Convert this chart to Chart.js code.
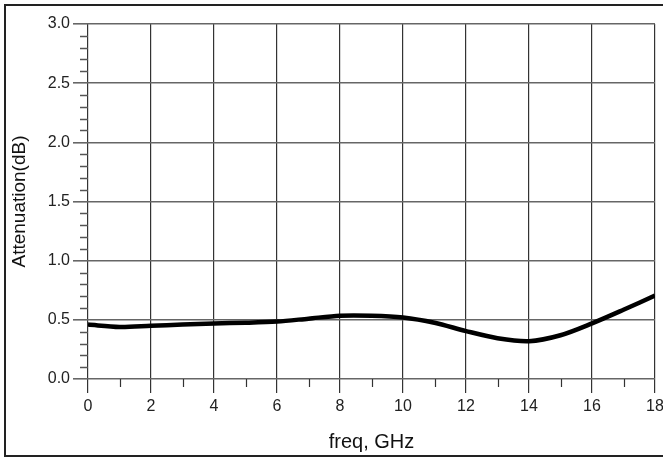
<!DOCTYPE html>
<html>
<head>
<meta charset="utf-8">
<script src="https://cdn.jsdelivr.net/npm/chart.js@4.4.1/dist/chart.umd.min.js"></script>
<style>
  html, body { margin: 0; padding: 0; background: #fff; }
  #wrap { width: 663px; height: 459px; }
</style>
</head>
<body>
<div id="wrap"><canvas id="attChart" width="663" height="459"></canvas></div>
<script>
// frequency points (GHz) and attenuation (dB)
const freq = [0, 1, 2, 3, 4, 5, 6, 7, 8, 9, 10, 11, 12, 13, 14, 15, 16, 17, 18];
const attenuation = [0.46, 0.44, 0.45, 0.46, 0.47, 0.475, 0.485, 0.51, 0.535, 0.535,
  0.52, 0.475, 0.405, 0.345, 0.32, 0.37, 0.47, 0.585, 0.705];
const xTicks = [0, 2, 4, 6, 8, 10, 12, 14, 16, 18];
const yTicks = [0.0, 0.5, 1.0, 1.5, 2.0, 2.5, 3.0];

const FONT = '"Liberation Sans", Arial, sans-serif';

// outer frame + minor ticks
const framePlugin = {
  id: 'frame',
  beforeDraw(chart) {
    const c = chart.ctx;
    c.save();
    c.fillStyle = '#fff';
    c.fillRect(0, 0, chart.width, chart.height);
    c.strokeStyle = '#222';
    c.lineWidth = 2;
    c.strokeRect(5, 5, 662, 451);
    c.restore();
  },
  afterDraw(chart) {
    const c = chart.ctx;
    const xs = chart.scales.x, ys = chart.scales.y;
    c.save();
    c.strokeStyle = '#555';
    c.lineWidth = 1.5;
    for (let i = 1; i < 30; i++) {
      if (i % 5 === 0) continue;
      const y = Math.round(ys.getPixelForValue(i / 10)) + 0.5;
      c.beginPath();
      c.moveTo(xs.left - 8, y);
      c.lineTo(xs.left, y);
      c.stroke();
    }
    c.strokeStyle = '#333';
    c.lineWidth = 1.2;
    for (let v = 1; v < 18; v += 2) {
      const x = Math.round(xs.getPixelForValue(v)) + 0.5;
      c.beginPath();
      c.moveTo(x, ys.bottom);
      c.lineTo(x, ys.bottom + 8);
      c.stroke();
    }
    c.restore();
  }
};

new Chart(document.getElementById('attChart'), {
  type: 'line',
  data: {
    datasets: [{
      data: freq.map((f, i) => ({ x: f, y: attenuation[i] })),
      borderColor: '#000',
      borderWidth: 4.5,
      pointRadius: 0,
      tension: 0.3,
      fill: false
    }]
  },
  options: {
    responsive: false,
    animation: false,
    layout: { padding: { left: 0, right: 8, top: 24, bottom: 0 } },
    plugins: { legend: { display: false }, tooltip: { enabled: false } },
    scales: {
      x: {
        type: 'linear',
        min: 0, max: 18,
        afterBuildTicks: s => { s.ticks = xTicks.map(v => ({ value: v })); },
        afterFit: s => { s.height = 80; s.paddingLeft = 0; s.paddingRight = 0; },
        border: { display: false },
        grid: { color: '#333', lineWidth: 1.2, tickLength: 14, tickColor: '#333' },
        ticks: { color: '#222', font: { family: FONT, size: 16 }, padding: 4, maxRotation: 0 },
        title: {
          display: true, text: 'freq, GHz', color: '#111',
          font: { family: FONT, size: 20 }, padding: { top: 0, bottom: 5 }
        }
      },
      y: {
        min: 0, max: 3,
        afterBuildTicks: s => { s.ticks = yTicks.map(v => ({ value: v })); },
        afterFit: s => { s.width = 88; },
        border: { display: false },
        grid: { color: '#666', lineWidth: 1.6, tickLength: 15, tickColor: '#666' },
        ticks: {
          color: '#222', font: { family: FONT, size: 16 }, padding: 3,
          callback: v => Number(v).toFixed(1)
        },
        title: {
          display: true, text: 'Attenuation(dB)', color: '#111',
          font: { family: FONT, size: 19 }, padding: { top: 8, bottom: 0 }
        }
      }
    }
  },
  plugins: [framePlugin]
});
</script>
</body>
</html>
